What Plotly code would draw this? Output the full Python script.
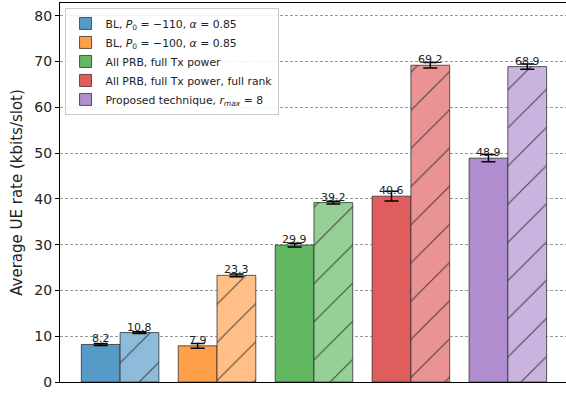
import plotly.graph_objects as go

names = [
    "BL, <i>P</i><sub>0</sub> = −110, <i>α</i> = 0.85",
    "BL, <i>P</i><sub>0</sub> = −100, <i>α</i> = 0.85",
    "All PRB, full Tx power",
    "All PRB, full Tx power, full rank",
    "Proposed technique, <i>r</i><sub><i>max</i></sub> = 8",
]
solid_vals = [8.2, 7.9, 29.9, 40.6, 48.9]
solid_err = [0.2, 0.5, 0.4, 1.05, 0.8]
hatch_vals = [10.8, 23.3, 39.2, 69.2, 68.9]
hatch_err = [0.2, 0.3, 0.3, 0.6, 0.6]
base_rgb = [(31, 119, 180), (255, 127, 14), (44, 160, 44), (214, 39, 40), (148, 103, 189)]


def blend(rgb, a):
    return "rgb(%d,%d,%d)" % tuple(round(a * c + (1 - a) * 255) for c in rgb)


fig = go.Figure()
edge = "rgba(40,40,40,0.75)"
for i, nm in enumerate(names):
    fig.add_trace(go.Bar(
        x=[i], y=[solid_vals[i]], name=nm, offset=-0.4, width=0.4,
        marker=dict(color=blend(base_rgb[i], 0.75), line=dict(color=edge, width=1)),
        error_y=dict(type="data", array=[solid_err[i]], color="black", thickness=1.5, width=7),
    ))
for i, nm in enumerate(names):
    fig.add_trace(go.Bar(
        x=[i], y=[hatch_vals[i]], name=nm, offset=0.0, width=0.4, showlegend=False,
        marker=dict(color=blend(base_rgb[i], 0.5), line=dict(color=edge, width=1),
                    pattern=dict(shape="/", size=27, solidity=0.04,
                                 fgcolor="rgba(40,40,40,0.8)", bgcolor=blend(base_rgb[i], 0.5),
                                 fillmode="replace")),
        error_y=dict(type="data", array=[hatch_err[i]], color="black", thickness=1.5, width=7),
    ))

annotations = []
for i in range(len(names)):
    for xv, v in ((i - 0.2, solid_vals[i]), (i + 0.2, hatch_vals[i])):
        annotations.append(dict(x=xv, y=v, text="%.1f" % v, showarrow=False,
                                yanchor="bottom", xanchor="center", yshift=-3,
                                font=dict(size=11, color="#222")))

fig.update_layout(
    width=566, height=395,
    margin=dict(l=60, r=0, t=3, b=13),
    plot_bgcolor="white", paper_bgcolor="white",
    barmode="overlay",
    font=dict(family="DejaVu Sans", color="#222"),
    annotations=annotations,
    legend=dict(x=0.009, y=0.987, xanchor="left", yanchor="top",
                bgcolor="rgba(255,255,255,0.85)", bordercolor="#cccccc", borderwidth=1,
                font=dict(size=10.8), tracegroupgap=0, itemwidth=30),
    xaxis=dict(range=[-0.62, 4.60], showticklabels=False, ticks="", showgrid=False,
               zeroline=False, showline=True, linecolor="black", linewidth=1.2, mirror=True),
    yaxis=dict(range=[0, 82.8], tickvals=list(range(0, 81, 10)), ticks="outside",
               ticklen=4, tickcolor="black", showline=True, linecolor="black", linewidth=1.2,
               showgrid=True, gridcolor="#999999", griddash="3px,2px", gridwidth=0.8,
               zeroline=False, tickfont=dict(size=14),
               title=dict(text="Average UE rate (kbits/slot)", font=dict(size=15), standoff=8)),
)
fig.write_html("out.html", config={"displayModeBar": False},
               post_script="document.body.style.margin='0px';")
